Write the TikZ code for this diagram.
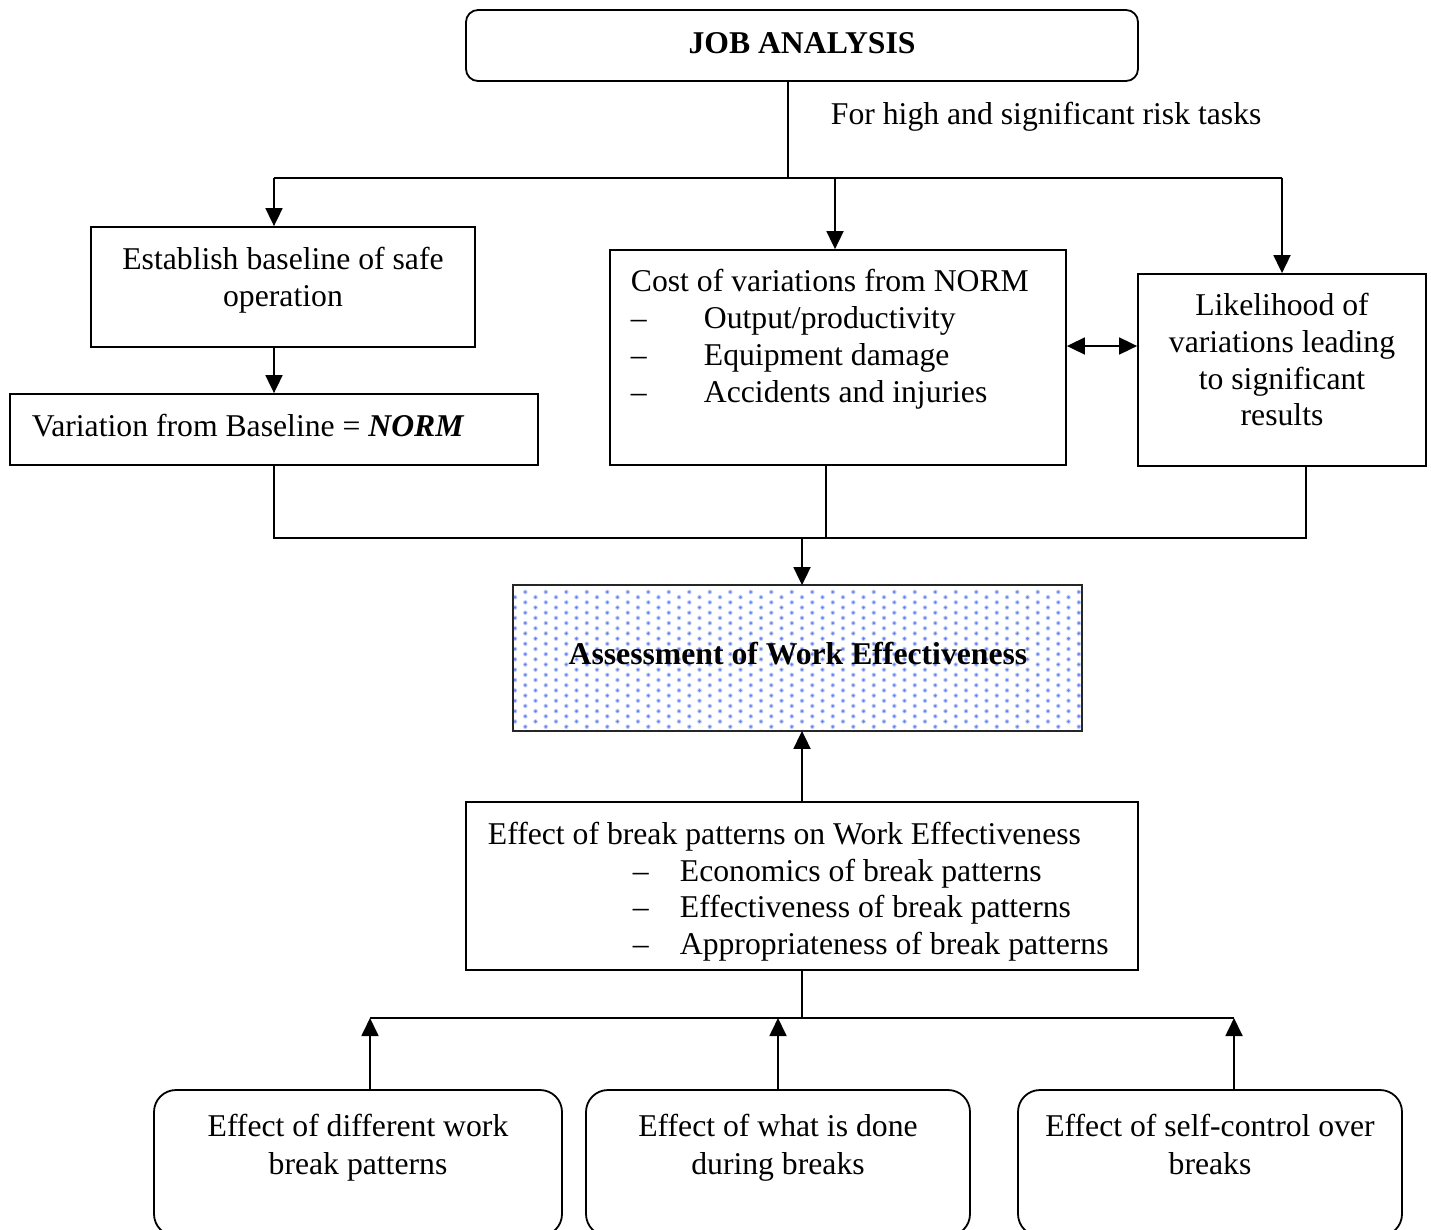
\documentclass[tikz,border=0pt]{standalone}
\usepackage{fontspec}
\setmainfont{Liberation Serif}
\usetikzlibrary{arrows.meta}
\definecolor{dotblue}{RGB}{100,130,242}
\definecolor{dothalo}{RGB}{190,205,250}
\begin{document}
\begin{tikzpicture}[x=1pt,y=-1pt,
  line width=1.8pt,
  box/.style={draw, line width=1.8pt, inner sep=0pt, fill=white},
  rbox/.style={box, rounded corners=#1},
  txt/.style={inner sep=0pt, font=\fontsize{31.7pt}{37pt}\selectfont},
  arr/.style={-{Triangle[length=18pt,width=17pt]}},
  dbl/.style={{Triangle[length=18pt,width=17pt]}-{Triangle[length=18pt,width=17pt]}},
  ]
\useasboundingbox (0,0) rectangle (1431,1229);
\clip (0,0) rectangle (1431,1229);

% ---------- boxes ----------
\node[rbox=12pt, minimum width=672pt, minimum height=71pt] (job) at (802,45.5) {};
\node[box, minimum width=384pt, minimum height=120pt] (base) at (283,287) {};
\node[box, minimum width=528pt, minimum height=71pt] (var) at (274,429.5) {};
\node[box, minimum width=456pt, minimum height=215pt] (cost) at (838,357.5) {};
\node[box, minimum width=288pt, minimum height=192pt] (like) at (1282,370) {};
\node[box, draw=none, minimum width=567pt, minimum height=144pt] (assess) at (797.5,658) {};
\node[box, minimum width=672pt, minimum height=168pt] (effect) at (802,886) {};
\node[rbox=22pt, minimum width=408pt, minimum height=146pt] (b1) at (358,1163) {};
\node[rbox=22pt, minimum width=384pt, minimum height=146pt] (b2) at (778,1163) {};
\node[rbox=22pt, minimum width=384pt, minimum height=146pt] (b3) at (1210,1163) {};

% dotted shading of the assessment box
\begin{scope}
  \clip (assess.north west) rectangle (assess.south east);
  \foreach \j in {0,...,28} {
    \pgfmathsetmacro{\yy}{592+5.18*\j}
    \pgfmathsetmacro{\xo}{isodd(\j) ? 515 : 525.3}
    \foreach \i in {0,...,28} {
      \fill[dothalo] (\xo+20.5*\i,\yy) circle (2.3pt);
      \fill[dotblue] (\xo+20.5*\i,\yy) circle (1.4pt);
    }
  }
\end{scope}
\draw[line width=1.8pt, black!85] (assess.north west) rectangle (assess.south east);

% ---------- texts ----------
\node[txt, anchor=base, font=\fontsize{31.7pt}{37pt}\selectfont\bfseries] (jobt) at (802,53.5) {JOB ANALYSIS};
\node[txt, anchor=base west] (risk) at (830,124) {For high and significant risk tasks};

\node[txt, anchor=base] (base1) at (283,269) {Establish baseline of safe};
\node[txt, anchor=base] (base2) at (283,306) {operation};

\node[txt, anchor=base west] (vart) at (31,436) {Variation from Baseline = \textbf{\textit{NORM}}};

\node[txt, anchor=base west] (cost0) at (630,291) {Cost of variations from NORM};
\node[txt, anchor=base west] (costd1) at (630,328) {–};
\node[txt, anchor=base west] (costd2) at (630,365) {–};
\node[txt, anchor=base west] (costd3) at (630,402) {–};
\node[txt, anchor=base west] (cost1) at (703,328) {Output/productivity};
\node[txt, anchor=base west] (cost2) at (703,365) {Equipment damage};
\node[txt, anchor=base west] (cost3) at (703,402) {Accidents and injuries};

\node[txt, anchor=base] (like1) at (1282,315) {Likelihood of};
\node[txt, anchor=base] (like2) at (1282,352) {variations leading};
\node[txt, anchor=base] (like3) at (1282,389) {to significant};
\node[txt, anchor=base] (like4) at (1282,425) {results};

\node[txt, anchor=base, font=\fontsize{31.7pt}{37pt}\selectfont\bfseries] (assesst) at (798,664) {Assessment of Work Effectiveness};

\node[txt, anchor=base west] (eff0) at (487,844) {Effect of break patterns on Work Effectiveness};
\node[txt, anchor=base west] (effd1) at (632,881) {–};
\node[txt, anchor=base west] (effd2) at (632,917) {–};
\node[txt, anchor=base west] (effd3) at (632,954) {–};
\node[txt, anchor=base west] (eff1) at (679,881) {Economics of break patterns};
\node[txt, anchor=base west] (eff2) at (679,917) {Effectiveness of break patterns};
\node[txt, anchor=base west] (eff3) at (679,954) {Appropriateness of break patterns};

\node[txt, anchor=base] (b1a) at (358,1136) {Effect of different work};
\node[txt, anchor=base] (b1b) at (358,1174) {break patterns};
\node[txt, anchor=base] (b2a) at (778,1136) {Effect of what is done};
\node[txt, anchor=base] (b2b) at (778,1174) {during breaks};
\node[txt, anchor=base] (b3a) at (1210,1136) {Effect of self-control over};
\node[txt, anchor=base] (b3b) at (1210,1174) {breaks};

% ---------- junction points ----------
\coordinate (j1) at (788,178);
\coordinate (aL) at (274,178);
\coordinate (aM) at (835,178);
\coordinate (aR) at (1282,178);
\coordinate (dj) at (1100,346);
\coordinate (c1) at (274,538);
\coordinate (c2) at (826,538);
\coordinate (c3) at (1306,538);
\coordinate (j2) at (802,538);
\coordinate (j3) at (802,1018);
\coordinate (d1) at (370,1018);
\coordinate (d2) at (778,1018);
\coordinate (d3) at (1234,1018);

% ---------- connectors ----------
\draw (j1 |- job.south) -- (j1);
\draw (aL) -- (aR);
\draw[arr] (aL) -- (aL |- base.north);
\draw[arr] (aM) -- (aM |- cost.north);
\draw[arr] (aR) -- (aR |- like.north);
\draw[arr] (aL |- base.south) -- (aL |- var.north);
\draw[dbl] (cost.east |- dj) -- (like.west |- dj);

\draw (c1 |- var.south) -- (c1) -- (c3) -- (c3 |- like.south);
\draw (c2 |- cost.south) -- (c2);
\draw[arr] (j2) -- (j2 |- assess.north);

\draw[arr] (effect.north) -- (effect.north |- assess.south);
\draw (effect.south) -- (j3);
\draw (d1) -- (d3);
\draw[arr] (d1 |- b1.north) -- (d1);
\draw[arr] (d2 |- b2.north) -- (d2);
\draw[arr] (d3 |- b3.north) -- (d3);
\end{tikzpicture}
\end{document}
